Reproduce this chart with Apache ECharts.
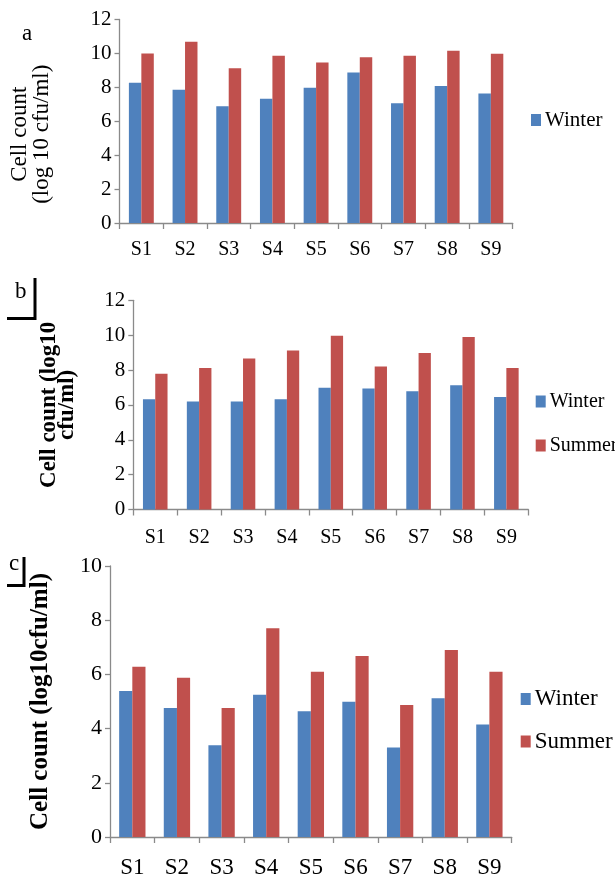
<!DOCTYPE html>
<html>
<head>
<meta charset="utf-8">
<script src="https://cdn.jsdelivr.net/npm/echarts@6/dist/echarts.min.js"></script>
<style>
html,body{margin:0;padding:0;background:#fff;}
#chart{width:615px;height:879px;}
</style>
</head>
<body>
<div id="chart"></div>
<script>
var categories = ['S1','S2','S3','S4','S5','S6','S7','S8','S9'];
var winterA = [8.27, 7.86, 6.88, 7.33, 7.98, 8.88, 7.06, 8.08, 7.63];
var summerA = [10.0, 10.69, 9.12, 9.86, 9.47, 9.78, 9.86, 10.16, 9.98];
var winterB = [6.33, 6.19, 6.19, 6.33, 6.99, 6.94, 6.78, 7.13, 6.46];
var summerB = [7.78, 8.12, 8.66, 9.12, 9.96, 8.20, 8.98, 9.90, 8.12];
var winterC = [5.39, 4.76, 3.39, 5.25, 4.64, 4.99, 3.30, 5.12, 4.15];
var summerC = [6.28, 5.88, 4.76, 7.70, 6.10, 6.68, 4.87, 6.90, 6.10];
var yMaxAB = 12, yMaxC = 10, yStep = 2;
var panelLabels = ['a', 'b', 'c'];
var legendA = ['Winter'];
var legendBC = ['Winter', 'Summer'];
var nameA = 'Cell count\n(log 10 cfu/ml)';
var nameB = 'Cell count (log10\ncfu/ml)';
var nameC = 'Cell count (log10cfu/ml)';

var FONT = '"Liberation Serif", "Times New Roman", serif';
var AXIS = '#8a8a8a';
var BLUE = '#4F81BD', RED = '#C0504D';

function xAx(gi, fs, margin) {
  return {
    type: 'category', gridIndex: gi, data: categories,
    axisLine: { lineStyle: { color: AXIS, width: 1.3 } },
    axisTick: { show: true, length: 6, lineStyle: { color: AXIS, width: 1.3 } },
    axisLabel: { color: '#000', fontFamily: FONT, fontSize: fs, margin: margin }
  };
}
function yAx(gi, max, fs, name, nameFs, bold, nameGap, lh, pad) {
  return {
    type: 'value', gridIndex: gi, min: 0, max: max, interval: yStep,
    name: name, nameLocation: 'middle', nameRotate: 90, nameGap: nameGap,
    nameTextStyle: { color: '#000', fontFamily: FONT, fontSize: nameFs, fontWeight: bold ? 'bold' : 'normal', lineHeight: lh, padding: pad },
    axisLine: { show: true, lineStyle: { color: AXIS, width: 1.3 } },
    axisTick: { show: true, length: 5, lineStyle: { color: AXIS, width: 1.3 } },
    splitLine: { show: false },
    axisLabel: { color: '#000', fontFamily: FONT, fontSize: fs, margin: 8 }
  };
}
function bar(name, gi, data, color, gap) {
  return {
    type: 'bar', name: name, xAxisIndex: gi, yAxisIndex: gi, data: data,
    barGap: '0%', barCategoryGap: gap,
    itemStyle: { color: color }
  };
}
function legend(data, left, top, fs, lh, gap) {
  return {
    data: data, orient: 'vertical', left: left, top: top, itemGap: gap,
    icon: 'rect', itemWidth: 10, itemHeight: 12, selectedMode: false,
    textStyle: { color: '#000', fontFamily: FONT, fontSize: fs, lineHeight: lh, padding: [0,0,0,-1] }
  };
}

var chart = echarts.init(document.getElementById('chart'), null, { renderer: 'canvas' });
chart.setOption({
  backgroundColor: '#fff',
  animation: false,
  grid: [
    { left: 118, top: 19.5, width: 394.7, height: 203.5 },
    { left: 133.3, top: 300.3, width: 395, height: 209.2 },
    { left: 110, top: 566, width: 401.7, height: 272.3 }
  ],
  xAxis: [ xAx(0, 20, 17), xAx(1, 20, 18), xAx(2, 23, 19) ],
  yAxis: [
    yAx(0, yMaxAB, 21, nameA, 23, false, 67, 22, [0, 26, 0, 0]),
    yAx(1, yMaxAB, 21, nameB, 23, true, 57, 18, [0, 0, 0, 0]),
    yAx(2, yMaxC, 22, nameC, 25, true, 57, 24, [0, 0, 0, 0])
  ],
  legend: [
    legend(legendA, 526, 104, 21, 22, 20),
    legend(legendBC, 530.7, 386.5, 20, 20, 24),
    legend(legendBC, 515.7, 682, 23, 24, 18.5)
  ],
  series: [
    bar('Winter', 0, winterA, BLUE, '43%'),
    bar('Summer', 0, summerA, RED, '43%'),
    bar('Winter', 1, winterB, BLUE, '44%'),
    bar('Summer', 1, summerB, RED, '44%'),
    bar('Winter', 2, winterC, BLUE, '41%'),
    bar('Summer', 2, summerC, RED, '41%')
  ],
  graphic: [
    { type: 'text', left: 22, top: 22, style: { text: panelLabels[0], font: '23px ' + FONT, fill: '#000' } },
    { type: 'text', left: 15, top: 280, style: { text: panelLabels[1], font: '23px ' + FONT, fill: '#000' } },
    { type: 'polyline', shape: { points: [[7, 318.5], [35, 318.5], [35, 278]] }, style: { stroke: '#000', lineWidth: 3, fill: null } },
    { type: 'text', left: 9, top: 552, style: { text: panelLabels[2], font: '23px ' + FONT, fill: '#000' } },
    { type: 'polyline', shape: { points: [[7, 585.5], [24, 585.5], [24, 557]] }, style: { stroke: '#000', lineWidth: 3, fill: null } }
  ]
});
</script>
</body>
</html>
